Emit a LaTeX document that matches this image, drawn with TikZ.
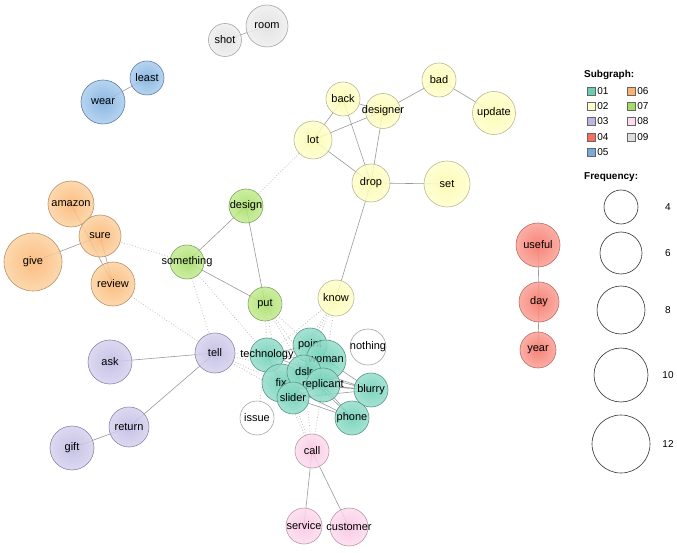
\documentclass[tikz,border=0pt]{standalone}
\usepackage{fontspec}
\setmainfont{Liberation Sans}
\usetikzlibrary{backgrounds}
\definecolor{o01}{RGB}{150,222,204}\definecolor{i01}{RGB}{105,205,180}\definecolor{b01}{RGB}{85,150,135}
\definecolor{o02}{RGB}{255,255,205}\definecolor{i02}{RGB}{250,250,170}\definecolor{b02}{RGB}{185,185,140}
\definecolor{o03}{RGB}{215,210,238}\definecolor{i03}{RGB}{188,183,225}\definecolor{b03}{RGB}{140,135,170}
\definecolor{o04}{RGB}{250,160,150}\definecolor{i04}{RGB}{245,110,95}\definecolor{b04}{RGB}{185,110,100}
\definecolor{o05}{RGB}{170,205,238}\definecolor{i05}{RGB}{120,170,220}\definecolor{b05}{RGB}{95,125,165}
\definecolor{o06}{RGB}{252,210,160}\definecolor{i06}{RGB}{250,178,110}\definecolor{b06}{RGB}{185,145,105}
\definecolor{o07}{RGB}{195,235,145}\definecolor{i07}{RGB}{165,220,100}\definecolor{b07}{RGB}{125,165,95}
\definecolor{o08}{RGB}{252,220,238}\definecolor{i08}{RGB}{248,195,225}\definecolor{b08}{RGB}{185,150,170}
\definecolor{o09}{RGB}{238,238,238}\definecolor{i09}{RGB}{222,222,222}\definecolor{b09}{RGB}{165,165,165}
\begin{document}
\begin{tikzpicture}[x=1pt, y=-1pt,
    word/.style={circle, inner sep=0pt, fill opacity=0.85, text opacity=1, line width=0.6pt,
      font=\fontsize{11}{12}\selectfont,
      execute at begin node={\hbox to 0pt\bgroup\hss}, execute at end node={\hss\egroup}},
    s01/.style={word, draw=b01, inner color=i01, outer color=o01},
    s02/.style={word, draw=b02, inner color=i02, outer color=o02},
    s03/.style={word, draw=b03, inner color=i03, outer color=o03},
    s04/.style={word, draw=b04, inner color=i04, outer color=o04},
    s05/.style={word, draw=b05, inner color=i05, outer color=o05},
    s06/.style={word, draw=b06, inner color=i06, outer color=o06},
    s07/.style={word, draw=b07, inner color=i07, outer color=o07},
    s08/.style={word, draw=b08, inner color=i08, outer color=o08},
    s09/.style={word, draw=b09, inner color=i09, outer color=o09},
    s00/.style={word, draw=gray!70, fill=white},
    link/.style={draw=gray!80, line width=0.6pt},
    weak/.style={draw=gray!50, dotted, line width=0.8pt},
    swatch/.style={draw=gray!80!black, minimum size=8pt, inner sep=0pt},
    keytext/.style={font=\fontsize{10}{11}\selectfont, anchor=west, inner sep=2pt},
    ring/.style={circle, draw=black!80, line width=0.6pt, inner sep=0pt}]
\useasboundingbox (0,0) rectangle (677,553);

% 09 and 05
\node[s09, minimum size=33pt] (shot) at (225,40) {shot};
\node[s09, minimum size=42pt] (room) at (267,26) {room};
\node[s05, minimum size=34pt] (least) at (147,78) {least};
\node[s05, minimum size=44pt] (wear) at (103,102) {wear};

% 02
\node[s02, minimum size=34pt] (back) at (343,99) {back};
\node[s02, minimum size=35pt] (designer) at (383,111) {designer};
\node[s02, minimum size=34pt] (bad) at (439,80) {bad};
\node[s02, minimum size=43pt] (update) at (494,113) {update};
\node[s02, minimum size=38pt] (lot) at (313,140) {lot};
\node[s02, minimum size=38pt] (drop) at (371,183) {drop};
\node[s02, minimum size=46pt] (set) at (447,184) {set};
\node[s02, minimum size=36pt] (know) at (336,298) {know};

% 07
\node[s07, minimum size=34pt] (design) at (246,206) {design};
\node[s07, minimum size=34pt] (something) at (187,262) {something};
\node[s07, minimum size=34pt] (put) at (265,304) {put};

% 06
\node[s06, minimum size=46pt] (amazon) at (71,204) {amazon};
\node[s06, minimum size=42pt] (sure) at (100,236) {sure};
\node[s06, minimum size=58pt] (give) at (33,262) {give};
\node[s06, minimum size=44pt] (review) at (113,284) {review};

% 03
\node[s03, minimum size=40pt] (tell) at (215,353) {tell};
\node[s03, minimum size=44pt] (ask) at (110,362) {ask};
\node[s03, minimum size=40pt] (return) at (129,427) {return};
\node[s03, minimum size=44pt] (gift) at (72,448) {gift};

% 04
\node[s04, minimum size=44pt] (useful) at (538,245) {useful};
\node[s04, minimum size=40pt] (day) at (539,302) {day};
\node[s04, minimum size=36pt] (year) at (538,350) {year};

% 08
\node[s08, minimum size=34pt] (call) at (312,451) {call};
\node[s08, minimum size=36pt] (service) at (304,526) {service};
\node[s08, minimum size=38pt] (customer) at (349,527) {customer};

% 01
\node[s01, minimum size=34pt] (technology) at (267,355) {technology};
\node[s01, minimum size=38pt] (fix) at (281,383) {fix};
\node[s01, minimum size=34pt] (point) at (310,345) {point};
\node[s01, minimum size=40pt] (woman) at (326,360) {woman};
\node[s01, minimum size=34pt] (dslr) at (304,372) {dslr};
\node[s01, minimum size=34pt] (replicant) at (323,385) {replicant};
\node[s01, minimum size=32pt] (slider) at (293,398) {slider};
\node[s01, minimum size=34pt] (blurry) at (371,390) {blurry};
\node[s01, minimum size=34pt] (phone) at (352,418) {phone};
\node[s00, minimum size=36pt] (nothing) at (368,347) {nothing};
\node[s00, minimum size=34pt] (issue) at (257,418) {issue};

\begin{pgfonlayer}{background}
% solid links
\draw[link] (shot.center) -- (room.center) (least.center) -- (wear.center);
\draw[link] (back.center) -- (designer.center) (back.center) -- (lot.center)
  (back.center) -- (drop.center) (designer.center) -- (lot.center)
  (designer.center) -- (drop.center) (designer.center) -- (bad.center)
  (bad.center) -- (update.center) (lot.center) -- (drop.center)
  (drop.center) -- (set.center) (drop.center) -- (know.center);
\draw[link] (design.center) -- (something.center) (design.center) -- (put.center)
  (something.center) -- (put.center);
\draw[link] (give.center) -- (sure.center) (amazon.center) -- (review.center)
  (sure.center) -- (review.center);
\draw[link] (ask.center) -- (tell.center) (tell.center) -- (return.center)
  (return.center) -- (gift.center);
\draw[link] (useful.center) -- (day.center) (day.center) -- (year.center);
\draw[link] (call.center) -- (service.center) (call.center) -- (customer.center);
\draw[link] (technology.center) -- (woman.center) (technology.center) -- (point.center)
  (technology.center) -- (fix.center) (point.center) -- (woman.center)
  (point.center) -- (dslr.center) (woman.center) -- (dslr.center)
  (dslr.center) -- (fix.center) (dslr.center) -- (replicant.center)
  (fix.center) -- (slider.center) (fix.center) -- (replicant.center)
  (slider.center) -- (replicant.center) (replicant.center) -- (blurry.center)
  (replicant.center) -- (phone.center) (fix.center) -- (blurry.center)
  (fix.center) -- (phone.center) (slider.center) -- (phone.center)
  (slider.center) -- (blurry.center) (dslr.center) -- (phone.center)
  (dslr.center) -- (blurry.center) (woman.center) -- (blurry.center)
  (technology.center) -- (blurry.center);
% dotted links between subgraphs
\draw[weak] (lot.center) -- (design.center) (sure.center) -- (something.center)
  (review.center) -- (tell.center) (something.center) -- (tell.center)
  (something.center) -- (technology.center);
\draw[weak] (put.center) -- (technology.center) (put.center) -- (point.center)
  (put.center) -- (dslr.center) (put.center) -- (fix.center)
  (put.center) -- (woman.center) (put.center) -- (replicant.center);
\draw[weak] (know.center) -- (point.center) (know.center) -- (woman.center)
  (know.center) -- (dslr.center) (know.center) -- (technology.center)
  (know.center) -- (fix.center);
\draw[weak] (tell.center) -- (technology.center) (tell.center) -- (fix.center)
  (tell.center) -- (dslr.center) (tell.center) -- (slider.center);
\draw[weak] (call.center) -- (slider.center) (call.center) -- (fix.center)
  (call.center) -- (dslr.center) (call.center) -- (replicant.center)
  (issue.center) -- (technology.center);
\end{pgfonlayer}

% Legend
\node[anchor=west, inner sep=0pt, font=\bfseries\fontsize{10}{11}\selectfont] (subhead) at (584,75) {Subgraph:};
\node[swatch, fill=i01] (k01) at (591,91) {};  \node[keytext] at (k01.east) {01};
\node[swatch, fill=o02] (k02) at (591,106) {}; \node[keytext] at (k02.east) {02};
\node[swatch, fill=i03] (k03) at (591,121) {}; \node[keytext] at (k03.east) {03};
\node[swatch, fill=i04] (k04) at (591,137) {}; \node[keytext] at (k04.east) {04};
\node[swatch, fill=i05] (k05) at (591,152) {}; \node[keytext] at (k05.east) {05};
\node[swatch, fill=i06] (k06) at (631,91) {};  \node[keytext] at (k06.east) {06};
\node[swatch, fill=i07] (k07) at (631,106) {}; \node[keytext] at (k07.east) {07};
\node[swatch, fill=o08] (k08) at (631,121) {}; \node[keytext] at (k08.east) {08};
\node[swatch, fill=i09] (k09) at (631,137) {}; \node[keytext] at (k09.east) {09};
\node[anchor=west, inner sep=0pt, font=\bfseries\fontsize{10}{11}\selectfont] (freqhead) at (584,177) {Frequency:};
\node[ring, minimum size=34pt] (f4) at (621,207) {};  \node[font=\fontsize{10}{11}\selectfont] at (668,207) {4};
\node[ring, minimum size=42pt] (f6) at (621,253) {};  \node[font=\fontsize{10}{11}\selectfont] at (668,253) {6};
\node[ring, minimum size=48pt] (f8) at (621,310) {};  \node[font=\fontsize{10}{11}\selectfont] at (668,310) {8};
\node[ring, minimum size=54pt] (f10) at (621,375) {}; \node[font=\fontsize{10}{11}\selectfont] at (668,375) {10};
\node[ring, minimum size=58pt] (f12) at (621,444) {}; \node[font=\fontsize{10}{11}\selectfont] at (668,444) {12};
\end{tikzpicture}
\end{document}
